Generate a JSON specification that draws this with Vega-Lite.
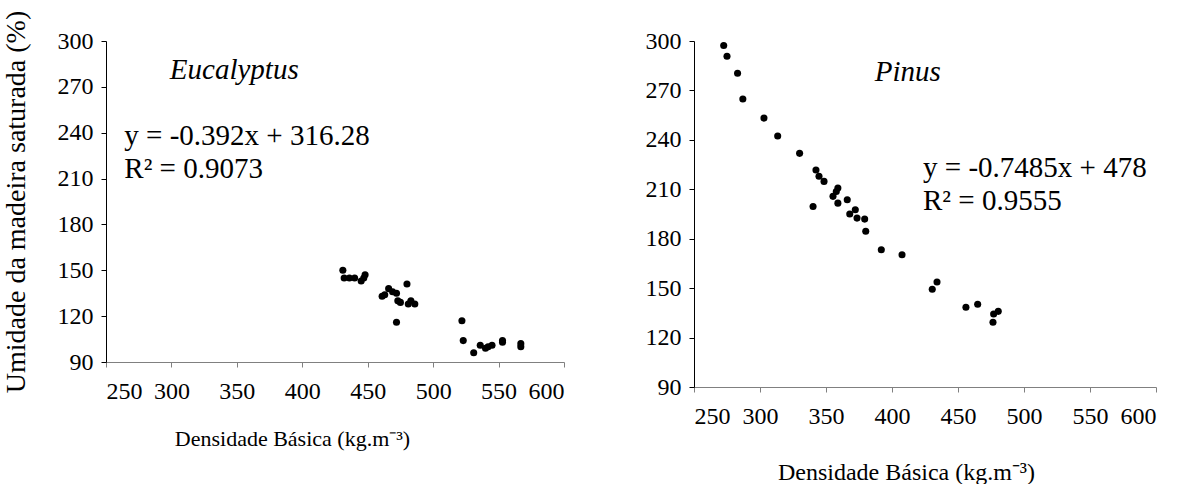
{
  "$schema": "https://vega.github.io/schema/vega-lite/v6.json",
  "background": "white",
  "padding": {"left": 2, "top": 10, "right": 5, "bottom": 0},
  "spacing": 80,
  "datasets": {
    "euc": [
      {"densidade": 431, "umidade": 150}, {"densidade": 432, "umidade": 145}, {"densidade": 436, "umidade": 145},
      {"densidade": 440, "umidade": 145}, {"densidade": 445, "umidade": 143}, {"densidade": 447, "umidade": 145},
      {"densidade": 448, "umidade": 147}, {"densidade": 461, "umidade": 133}, {"densidade": 463, "umidade": 134},
      {"densidade": 466, "umidade": 138}, {"densidade": 469, "umidade": 136}, {"densidade": 472, "umidade": 135},
      {"densidade": 473, "umidade": 130}, {"densidade": 475, "umidade": 129}, {"densidade": 480, "umidade": 141},
      {"densidade": 481, "umidade": 128}, {"densidade": 483, "umidade": 130}, {"densidade": 486, "umidade": 128},
      {"densidade": 472, "umidade": 116}, {"densidade": 522, "umidade": 117}, {"densidade": 523, "umidade": 104},
      {"densidade": 531, "umidade": 96}, {"densidade": 536, "umidade": 101}, {"densidade": 540, "umidade": 99},
      {"densidade": 542, "umidade": 100}, {"densidade": 545, "umidade": 101}, {"densidade": 553, "umidade": 103},
      {"densidade": 553, "umidade": 104}, {"densidade": 567, "umidade": 100}, {"densidade": 567, "umidade": 102}
    ],
    "pin": [
      {"densidade": 272.5, "umidade": 297.3}, {"densidade": 275, "umidade": 290.7}, {"densidade": 283, "umidade": 280.4},
      {"densidade": 287, "umidade": 264.8}, {"densidade": 303, "umidade": 253.2}, {"densidade": 313.4, "umidade": 242.3},
      {"densidade": 330, "umidade": 231.8}, {"densidade": 342.4, "umidade": 221.7}, {"densidade": 344.7, "umidade": 217.9},
      {"densidade": 348.5, "umidade": 214.8}, {"densidade": 359, "umidade": 210.8}, {"densidade": 357.8, "umidade": 208.7},
      {"densidade": 355.3, "umidade": 205.7}, {"densidade": 340.2, "umidade": 199.6}, {"densidade": 359, "umidade": 201.6},
      {"densidade": 366.1, "umidade": 203.7}, {"densidade": 372.2, "umidade": 197.6}, {"densidade": 368, "umidade": 195},
      {"densidade": 373.5, "umidade": 192.5}, {"densidade": 379.3, "umidade": 191.9}, {"densidade": 380.1, "umidade": 184.5},
      {"densidade": 391.9, "umidade": 173.3}, {"densidade": 407.6, "umidade": 170.3}, {"densidade": 434.1, "umidade": 153.7},
      {"densidade": 430.5, "umidade": 149.3}, {"densidade": 456, "umidade": 138.4}, {"densidade": 464.9, "umidade": 140.2},
      {"densidade": 480.5, "umidade": 135.9}, {"densidade": 477, "umidade": 134.3}, {"densidade": 476.5, "umidade": 129.3}
    ],
    "eucEq": [
      {"x": 264, "y": 238, "label": "y = -0.392x + 316.28"},
      {"x": 264, "y": 216, "label": "R² = 0.9073"}
    ],
    "eucTitle": [{"x": 348, "y": 281, "label": "Eucalyptus"}],
    "pinEq": [
      {"x": 423.5, "y": 223, "label": "y = -0.7485x + 478"},
      {"x": 423.5, "y": 203, "label": "R² = 0.9555"}
    ],
    "pinTitle": [{"x": 412, "y": 281, "label": "Pinus"}]
  },
  "config": {
    "view": {"stroke": null},
    "font": "Liberation Serif",
    "axis": {
      "labelFont": "Liberation Serif", "labelFontSize": 24, "labelColor": "black",
      "titleFont": "Liberation Serif", "titleFontSize": 23, "titleFontWeight": "normal", "titleColor": "black",
      "grid": false, "tickColor": "black", "domainColor": "black", "tickSize": 5, "labelPadding": 8
    },
    "axisX": {"domainColor": "#808080", "tickColor": "#808080", "labelPadding": 12}
  },
  "hconcat": [
    {
      "width": 458, "height": 321,
      "layer": [
        {
          "data": {"name": "euc"},
          "mark": {"type": "circle", "size": 50, "color": "black", "opacity": 1},
          "encoding": {
            "x": {"field": "densidade", "type": "quantitative", "scale": {"domain": [250, 600], "nice": false, "zero": false},
                  "axis": {"values": [250, 300, 350, 400, 450, 500, 550, 600], "title": "Densidade Básica (kg.m⁻³)", "titleFontSize": 22, "titleX": 186, "titleAlign": "center", "titlePadding": 25}},
            "y": {"field": "umidade", "type": "quantitative", "scale": {"domain": [90, 300], "nice": false, "zero": false},
                  "axis": {"values": [90, 120, 150, 180, 210, 240, 270, 300], "title": "Umidade da madeira saturada (%)", "titleFontSize": 28, "titlePadding": 27}}
          }
        },
        {
          "data": {"name": "eucEq"},
          "mark": {"type": "text", "align": "left", "baseline": "middle", "fontSize": 29, "font": "Liberation Serif", "color": "black"},
          "encoding": {"x": {"field": "x", "type": "quantitative"}, "y": {"field": "y", "type": "quantitative"}, "text": {"field": "label"}}
        },
        {
          "data": {"name": "eucTitle"},
          "mark": {"type": "text", "align": "center", "baseline": "middle", "fontSize": 29, "fontStyle": "italic", "font": "Liberation Serif", "color": "black"},
          "encoding": {"x": {"field": "x", "type": "quantitative"}, "y": {"field": "y", "type": "quantitative"}, "text": {"field": "label"}}
        }
      ]
    },
    {
      "width": 462, "height": 346,
      "layer": [
        {
          "data": {"name": "pin"},
          "mark": {"type": "circle", "size": 50, "color": "black", "opacity": 1},
          "encoding": {
            "x": {"field": "densidade", "type": "quantitative", "scale": {"domain": [250, 600], "nice": false, "zero": false},
                  "axis": {"values": [250, 300, 350, 400, 450, 500, 550, 600], "title": "Densidade Básica (kg.m⁻³)", "titleFontSize": 24, "titleX": 212, "titleAlign": "center", "titlePadding": 32}},
            "y": {"field": "umidade", "type": "quantitative", "scale": {"domain": [90, 300], "nice": false, "zero": false},
                  "axis": {"values": [90, 120, 150, 180, 210, 240, 270, 300], "title": null}}
          }
        },
        {
          "data": {"name": "pinEq"},
          "mark": {"type": "text", "align": "left", "baseline": "middle", "fontSize": 29, "font": "Liberation Serif", "color": "black"},
          "encoding": {"x": {"field": "x", "type": "quantitative"}, "y": {"field": "y", "type": "quantitative"}, "text": {"field": "label"}}
        },
        {
          "data": {"name": "pinTitle"},
          "mark": {"type": "text", "align": "center", "baseline": "middle", "fontSize": 29, "fontStyle": "italic", "font": "Liberation Serif", "color": "black"},
          "encoding": {"x": {"field": "x", "type": "quantitative"}, "y": {"field": "y", "type": "quantitative"}, "text": {"field": "label"}}
        }
      ]
    }
  ]
}
